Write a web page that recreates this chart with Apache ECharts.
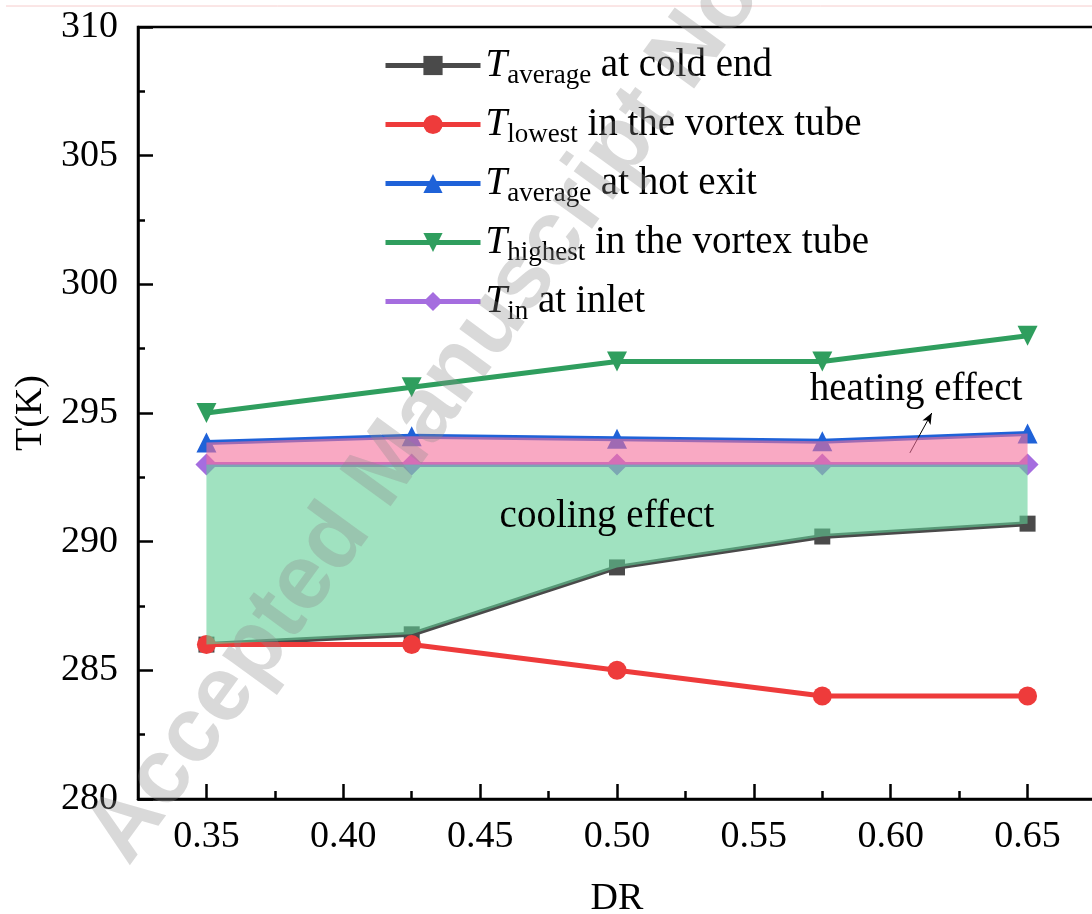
<!DOCTYPE html>
<html><head><meta charset="utf-8">
<script src="https://cdn.jsdelivr.net/npm/echarts@6/dist/echarts.min.js"></script>
<style>html,body{margin:0;padding:0;background:#fff}#c{width:1092px;height:914px}</style>
</head><body><div id="c"></div><script>
// ---- data ----
const xValues = [0.35, 0.425, 0.5, 0.575, 0.65];
const coldEnd = [286.0, 286.4, 289.0, 290.2, 290.7];
const lowest  = [286.0, 286.0, 285.0, 284.0, 284.0];
const hotExit = [293.85, 294.1, 294.0, 293.9, 294.2];
const highest = [295.0, 296.0, 297.0, 297.0, 298.0];
const inlet   = [293.0, 293.0, 293.0, 293.0, 293.0];
const xMajorTicks = [0.35, 0.40, 0.45, 0.50, 0.55, 0.60, 0.65];
const xMinorTicks = [0.375, 0.425, 0.475, 0.525, 0.575, 0.625];
const yTickLabels = [280, 285, 290, 295, 300, 305, 310];
const seriesNames = ['T_average at cold end', 'T_lowest in the vortex tube', 'T_average at hot exit', 'T_highest in the vortex tube', 'T_in at inlet'];
const legendSubs = ['average', 'lowest', 'average', 'highest', 'in'];
const legendRest = ['at cold end', 'in the vortex tube', 'at hot exit', 'in the vortex tube', 'at inlet'];
const heatingArrow = [[0.607, 293.45], [0.615, 295.0]];

const serif = '"Liberation Serif", "Times New Roman", serif';
const chart = echarts.init(document.getElementById('c'), null, {renderer: 'canvas'});
const pairs = ys => xValues.map((x, i) => [x, ys[i]]);

function lineSeries(name, ys, color, symbol, size, rotate) {
  return {
    name, type: 'line', data: pairs(ys), symbol, symbolSize: size, symbolRotate: rotate || 0,
    lineStyle: {color, width: 5}, itemStyle: {color}, z: 2, animation: false
  };
}

const axisCol = '#000';
const series = [
  lineSeries(seriesNames[0], coldEnd, '#4a4a4a', 'rect', 16),
  lineSeries(seriesNames[1], lowest, '#ee3b3b', 'circle', 19),
  lineSeries(seriesNames[2], hotExit, '#1f62d8', 'triangle', 20),
  lineSeries(seriesNames[3], highest, '#2f9e5e', 'triangle', 20, 180),
  lineSeries(seriesNames[4], inlet, '#a56ddf', 'diamond', 22),
  {
    type: 'custom', z: 5, silent: true, animation: false,
    data: [[xValues[0], inlet[0]]],
    renderItem: (params, api) => {
      const c = xValues.map((x, i) => api.coord([x, coldEnd[i]]));
      const t = xValues.map((x, i) => api.coord([x, inlet[i]]));
      const h = xValues.map((x, i) => api.coord([x, hotExit[i]]));
      return {type: 'group', children: [
        {type: 'polygon', shape: {points: c.concat(t.slice().reverse())}, style: {fill: 'rgba(97,207,150,0.6)'}},
        {type: 'polygon', shape: {points: t.concat(h.slice().reverse())}, style: {fill: 'rgba(245,112,155,0.6)'}}
      ]};
    }
  },
  {
    type: 'line', data: [], silent: true, animation: false,
    markLine: {
      silent: true, animation: false, symbol: ['none', 'arrow'], symbolSize: [7, 11],
      label: {show: false}, lineStyle: {color: '#000', width: 1, type: 'solid'},
      data: [[{coord: heatingArrow[0]}, {coord: heatingArrow[1]}]]
    }
  }
];

const option = {
  backgroundColor: '#fff',
  animation: false,
  grid: {left: 138, top: 27, right: -4, bottom: 115, outerBoundsMode: 'none', containLabel: false,
         show: true, borderColor: '#000', borderWidth: 2.5, backgroundColor: 'transparent'},
  xAxis: [
    {
      type: 'value', min: 0.325, max: 0.675, position: 'bottom',
      axisLine: {show: true, onZero: false, lineStyle: {color: axisCol, width: 2.5}},
      axisTick: {show: true, inside: true, length: 15, customValues: xMajorTicks, lineStyle: {color: axisCol, width: 2.5}},
      axisLabel: {customValues: xMajorTicks, formatter: v => v.toFixed(2), fontFamily: serif, fontSize: 38, color: '#000', margin: 19},
      splitLine: {show: false},
      name: 'DR', nameLocation: 'middle', nameGap: 81,
      nameTextStyle: {fontFamily: serif, fontSize: 38, color: '#000'}
    },
    {
      type: 'value', min: 0.325, max: 0.675, position: 'bottom',
      axisLine: {show: false, onZero: false},
      axisTick: {show: true, inside: true, length: 8, customValues: xMinorTicks, lineStyle: {color: axisCol, width: 2.5}},
      axisLabel: {show: false}, splitLine: {show: false}
    }
  ],
  yAxis: {
    type: 'value', min: 280, max: 310, interval: 5,
    axisLine: {show: true, onZero: false, lineStyle: {color: axisCol, width: 2.5}},
    axisTick: {show: true, inside: true, length: 15, lineStyle: {color: axisCol, width: 2.5}},
    minorTick: {show: true, splitNumber: 2, length: 7, lineStyle: {color: axisCol, width: 2.5}},
    axisLabel: {formatter: v => yTickLabels.includes(v) ? String(v) : '', fontFamily: serif, fontSize: 38, color: '#000', margin: 20},
    splitLine: {show: false},
    name: 'T(K)', nameLocation: 'middle', nameGap: 84,
    nameTextStyle: {fontFamily: serif, fontSize: 38, color: '#000'}
  },
  legend: {
    orient: 'vertical', left: 383, top: 42, padding: 0, itemWidth: 95, itemHeight: 24, itemGap: 12,
    data: seriesNames, selectedMode: false,
    lineStyle: {width: 5},
    formatter: name => {
      const k = seriesNames.indexOf(name);
      return '{i|T}{s|' + legendSubs[k] + '}{m| ' + legendRest[k] + '}';
    },
    textStyle: {
      color: '#000', fontFamily: serif, fontSize: 39,
      rich: {
        i: {fontStyle: 'italic', fontFamily: serif, fontSize: 39, lineHeight: 50, color: '#000'},
        s: {fontFamily: serif, fontSize: 27, lineHeight: 30, padding: [20, 0, 0, 0], color: '#000'},
        m: {fontFamily: serif, fontSize: 39, lineHeight: 50, color: '#000'}
      }
    }
  },
  graphic: [
    {type: 'line', shape: {x1: 6, y1: 6, x2: 1092, y2: 6}, style: {stroke: '#f6cccc', lineWidth: 1}, silent: true},
    {type: 'text', x: 607, y: 517, z: 50, silent: true,
     style: {text: 'cooling effect', fontFamily: serif, fontSize: 39, fill: '#000', align: 'center', verticalAlign: 'middle'}},
    {type: 'text', x: 916, y: 390, z: 50, silent: true,
     style: {text: 'heating effect', fontFamily: serif, fontSize: 39, fill: '#000', align: 'center', verticalAlign: 'middle'}},
    {type: 'text', x: 108, y: 852, rotation: 54 * Math.PI / 180, z: 100, silent: true,
     style: {text: 'Accepted Manuscript Not Copyedited', fontFamily: '"Liberation Sans", Arial, sans-serif', fontWeight: 'bold', fontSize: 92, fill: 'rgba(140,140,140,0.33)', align: 'left', verticalAlign: 'middle'}}
  ],
  series
};
chart.setOption(option);
</script></body></html>
